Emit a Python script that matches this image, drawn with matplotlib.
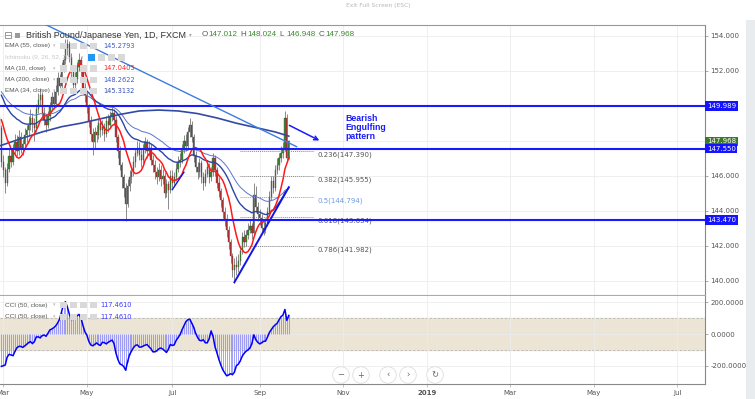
import matplotlib
matplotlib.use("Agg")
import matplotlib.pyplot as plt
import matplotlib.transforms as mtransforms
from matplotlib.patches import Rectangle, Circle
import numpy as np
import pandas as pd

# GBP/JPY daily bars, 15 Feb 2018 .. 24 Sep 2018 (first nine sit left of the view)
last_day = "2018-09-24"
first_open = 150.2
closes = [
    149.9, 149.6,
    150.0, 149.5, 149.8, 148.9, 149.4,
    149.3, 148.7, 146.8, 146.3, 145.6,
    146.4, 147.1, 146.8, 147.5, 147.9,
    147.4, 148.2, 147.6, 147.8, 148.3,
    148.6, 148.9, 149.3, 149.0, 148.7,
    149.8, 150.3, 150.6, 149.6, 149.2,
    148.9, 149.4, 149.9, 150.5, 150.1,
    150.8, 151.6, 151.1, 152.2, 152.6,
    153.3, 153.5, 152.8, 152.0, 151.2,
    151.5, 152.2, 152.6, 152.0, 151.0,
    150.6, 149.9, 149.1, 148.4, 147.9,
    148.5, 148.3, 149.0, 148.6, 148.8,
    148.4, 149.1, 148.9, 149.4, 149.6,
    149.2, 148.2, 147.4, 146.6, 145.9,
    145.3, 144.4, 145.4, 145.9, 146.2,
    146.8, 147.3, 147.6, 147.2, 146.9,
    147.5, 147.9, 147.4, 147.6, 146.9,
    146.6, 146.2, 145.9, 146.3, 145.8,
    146.0, 145.0, 145.5, 145.2, 146.0,
    145.6, 145.9, 146.4, 146.8, 146.9,
    147.5, 148.0, 147.7, 148.5, 148.9,
    148.2, 147.1, 146.5, 146.2, 146.7,
    145.9, 145.6, 146.1, 146.5, 145.9,
    146.2, 147.0, 146.3, 145.6, 145.1,
    144.6, 143.9, 143.5, 142.9, 142.2,
    141.4, 140.6, 140.9, 140.8, 141.1,
    141.7, 142.5, 142.2, 142.6, 142.9,
    143.1, 142.7, 144.9, 144.2, 143.8,
    143.6, 143.0, 142.9, 143.3, 143.9,
    144.8, 145.7, 145.3, 146.3, 146.6,
    147.0, 147.3, 147.6, 149.3, 147.012,
    147.968,
]
highs = [
    150.5, 150.2,
    150.4, 150.3, 150.1, 150.0, 149.7,
    149.9, 149.5, 148.9, 147.2, 146.5,
    146.7, 147.5, 147.6, 147.8, 148.4,
    148.3, 148.6, 148.5, 148.1, 148.7,
    148.9, 149.4, 149.8, 149.6, 149.3,
    150.1, 150.7, 151.0, 150.8, 149.9,
    149.5, 149.7, 150.2, 150.8, 150.9,
    151.2, 151.9, 151.8, 152.5, 152.9,
    153.8, 153.8, 153.7, 153.0, 152.3,
    151.9, 152.5, 153.0, 152.8, 152.2,
    151.3, 150.8, 150.1, 149.4, 148.7,
    148.8, 148.9, 149.3, 149.2, 149.2,
    149.0, 149.4, 149.5, 149.7, 150.0,
    149.8, 149.4, 148.4, 147.7, 146.8,
    146.1, 145.6, 145.8, 146.3, 146.5,
    147.1, 147.6, 148.0, 147.9, 147.5,
    147.8, 148.2, 148.1, 148.0, 147.8,
    147.2, 146.9, 146.5, 146.7, 146.6,
    146.4, 146.2, 145.8, 145.7, 146.3,
    146.3, 146.2, 146.7, 147.1, 147.3,
    147.8, 148.3, 148.4, 148.8, 149.3,
    149.1, 148.4, 147.4, 146.8, 147.0,
    146.9, 146.2, 146.4, 146.9, 146.7,
    146.5, 147.3, 147.2, 146.5, 145.9,
    145.3, 144.8, 144.2, 143.8, 143.1,
    142.4, 141.6, 141.3, 141.4, 141.5,
    142.0, 142.8, 142.9, 142.9, 143.3,
    143.5, 143.3, 145.6, 145.4, 144.5,
    144.1, 143.8, 143.4, 143.6, 144.2,
    145.1, 146.0, 146.0, 146.6, 147.0,
    147.3, 147.7, 147.9, 149.71, 149.5,
    148.024,
]
lows = [
    149.6, 149.3,
    149.4, 149.2, 149.2, 148.6, 148.7,
    149.0, 148.4, 146.5, 145.9, 145.0,
    145.4, 146.2, 146.5, 146.6, 147.2,
    147.1, 147.2, 147.3, 147.2, 147.6,
    147.9, 148.3, 148.6, 148.5, 148.0,
    148.5, 149.6, 150.0, 149.3, 148.9,
    148.5, 148.7, 149.1, 149.7, 149.8,
    149.9, 150.6, 150.7, 150.9, 151.9,
    152.4, 152.9, 152.5, 151.6, 150.9,
    150.8, 151.3, 152.0, 151.7, 150.7,
    150.2, 149.6, 148.8, 148.0, 147.2,
    147.6, 147.9, 148.1, 148.2, 148.3,
    148.0, 148.2, 148.5, 148.7, 149.1,
    148.9, 147.9, 147.0, 146.3, 145.3,
    144.8, 143.4, 144.2, 145.1, 145.6,
    146.0, 146.5, 147.1, 146.9, 146.5,
    146.7, 147.3, 147.0, 147.1, 146.6,
    146.2, 145.8, 145.5, 145.7, 145.4,
    145.5, 144.7, 144.8, 144.1, 145.0,
    145.3, 145.4, 145.7, 146.2, 146.5,
    146.7, 147.3, 147.4, 147.5, 148.2,
    147.9, 146.8, 146.2, 145.8, 145.9,
    145.6, 145.2, 145.4, 145.9, 145.6,
    145.7, 146.0, 146.0, 145.3, 144.8,
    144.2, 143.6, 143.1, 142.5, 141.8,
    141.0, 140.2, 139.88, 140.3, 140.5,
    140.9, 141.5, 141.9, 142.0, 142.4,
    142.7, 142.4, 142.6, 143.9, 143.4,
    143.2, 142.7, 142.6, 142.7, 143.1,
    143.7, 144.6, 145.0, 145.1, 146.1,
    146.3, 146.8, 147.0, 147.4, 146.8,
    146.948,
]

# CCI(50) from 28 Feb 2018 to 24 Sep 2018
cci = [
    -204, -200, -195,
    -145, -128, -132, -136, -110,
    -86, -78, -78, -84, -75,
    -65, -54, -48, -60, -48,
    -18, -18, -24, -10, -6,
    -14, 5, 26, 32, 40,
    52, 70, 95, 140, 188,
    204, 170, 125, 92, 93,
    100, 115, 124, 100, 55,
    15, -6, -45, -68, -74,
    -66, -56, -66, -72, -52,
    -54, -62, -52, -45, -38,
    -60, -120, -160, -188, -194,
    -205, -228, -175, -130, -108,
    -86, -72, -68, -82, -82,
    -76, -70, -66, -80, -92,
    -112, -112, -106, -94, -88,
    -94, -104, -116, -96, -66,
    -72, -68, -40, -22, -4,
    26, 52, 78, 90, 94,
    70, 44, 6, -20, -40,
    -42, -36, -55, -55, -30,
    20, -15, -80, -118, -160,
    -195, -225, -245, -263, -258,
    -250, -256, -240, -200, -190,
    -170, -140, -122, -108, -100,
    -88, -60, -5, -35, -52,
    -62, -55, -46, -45, -20,
    10, 28, 46, 58, 68,
    90, 110, 120, 155, 86,
    117.461,
]

# 200-day MA
ma200_dates = ["2018-02-27", "2018-03-15", "2018-03-29", "2018-04-12", "2018-04-26",
               "2018-05-10", "2018-05-24", "2018-06-07", "2018-06-21", "2018-07-05",
               "2018-07-19", "2018-08-02", "2018-08-16", "2018-08-30", "2018-09-13",
               "2018-09-24"]
ma200_values = [147.7, 148.15, 148.5, 148.8, 149.0, 149.25, 149.5, 149.7, 149.75,
                149.7, 149.55, 149.3, 149.0, 148.75, 148.5, 148.26]
ema_start_day = "2018-02-28"
ema34_start = 150.6
ema55_start = 150.8

levels = [149.989, 147.550, 143.470]
fib_high, fib_low = 149.711, 139.878
fib_ratios = [0.236, 0.382, 0.5, 0.618, 0.786]
fib_span = ["2018-08-20", "2018-10-11"]

trend_down = (["2018-03-15", "2018-09-28"], [155.27, 147.66])
trend_up = (["2018-08-15", "2018-09-24"], [139.91, 145.34])
trend_jul = (["2018-07-02", "2018-07-10"], [145.2, 146.2])
arrow_pts = (["2018-09-21", "2018-10-17"], [148.95, 147.94])
note_at = ("2018-11-02", 149.55)

price_ticks = [140, 142, 144, 146, 148, 150, 152, 154]
cci_ticks = [-200, 0, 200]
months = ["2018-03", "2018-05", "2018-07", "2018-09", "2018-11",
          "2019-01", "2019-03", "2019-05", "2019-07"]
month_labels = ["Mar", "May", "Jul", "Sep", "Nov", "2019", "Mar", "May", "Jul"]

legend_rows = [("EMA (55, close)", "145.2793", "#3f5cc4"),
               ("Ichimoku (9, 26, 52, 26)", "", ""),
               ("MA (10, close)", "147.0405", "#ff2020"),
               ("MA (200, close)", "148.2622", "#3f5cc4"),
               ("EMA (34, close)", "145.3132", "#3850b0")]


def ema(vals, span, start):
    a = 2.0 / (span + 1)
    out = [start]
    for v in vals[1:]:
        out.append(out[-1] + a * (v - out[-1]))
    return out


def main():
    W, H = 755, 399
    cal = pd.bdate_range("2018-02-01", "2019-08-30")

    def xp(d):
        return cal.get_loc(pd.Timestamp(d))

    dates = pd.bdate_range(end=last_day, periods=len(closes))
    xs = np.array([cal.get_loc(d) for d in dates])
    k0 = list(dates).index(pd.Timestamp(ema_start_day))
    x_mar = xp("2018-03-01")
    xlim = (x_mar - 1.7, x_mar + 361.3)
    month_x = [cal[cal.searchsorted(pd.Timestamp(m))] for m in months]
    month_x = [cal.get_loc(d) for d in month_x]

    fig = plt.figure(figsize=(W / 100, H / 100), dpi=100)

    def frac(l, t, r, b):
        return [l / W, 1 - b / H, (r - l) / W, (b - t) / H]

    ax = fig.add_axes(frac(0, 25, 705, 295))
    axc = fig.add_axes(frac(0, 296, 705, 384))

    # candles
    c = np.array(closes)
    o = np.array([first_open] + closes[:-1])
    up = c >= o
    ax.vlines(xs, lows, highs, color="#777777", lw=0.6, zorder=2)
    ax.bar(xs, np.maximum(np.abs(c - o), 0.04), bottom=np.minimum(o, c), width=0.65,
           color=np.where(up, "#3b8a2e", "#d42a2a"), edgecolor="#444444",
           linewidth=0.25, zorder=3)

    # indicators
    ma10 = pd.Series(closes).rolling(10).mean().values
    ax.plot(xs[k0:], ma10[k0:], color="#ff1a1a", lw=1.1, zorder=6)
    ax.plot(xs[k0:], ema(closes[k0:], 55, ema55_start), color="#5a73d1", lw=0.7, zorder=5)
    ax.plot(xs[k0:], ema(closes[k0:], 34, ema34_start), color="#2c45a8", lw=1.0, zorder=5)
    ax.plot([xp(d) for d in ma200_dates], ma200_values, color="#3349a6", lw=1.2, zorder=5)

    # drawings
    for lv in levels:
        ax.axhline(lv, color="#1a1aff", lw=1.5, zorder=7)
    ax.plot([xp(d) for d in trend_down[0]], trend_down[1], color="#3d7be0", lw=1.0, zorder=7)
    ax.plot([xp(d) for d in trend_up[0]], trend_up[1], color="#1414e6", lw=1.4, zorder=7)
    ax.plot([xp(d) for d in trend_jul[0]], trend_jul[1], color="#1414e6", lw=1.0, zorder=7)
    ax.annotate("", xy=(xp(arrow_pts[0][1]), arrow_pts[1][1]),
                xytext=(xp(arrow_pts[0][0]), arrow_pts[1][0]),
                arrowprops=dict(arrowstyle="->", color="#1a1aff", lw=1.1,
                                mutation_scale=7), zorder=8)
    ax.text(xp(note_at[0]), note_at[1], "Bearish\nEngulfing\npattern", color="#1a1aff",
            fontsize=6.3, fontweight="bold", family="Liberation Sans", va="top",
            ha="left", linespacing=1.05, zorder=8)

    fx0, fx1 = xp(fib_span[0]), xp(fib_span[1])
    for r in fib_ratios:
        lvl = fib_high - r * (fib_high - fib_low)
        col = "#7aa6e8" if r == 0.5 else "#8a8a8a"
        ax.plot([fx0, fx1], [lvl, lvl], ls=(0, (1, 1)), lw=0.7, color=col, zorder=4)
        ax.annotate(f"{r}({lvl:.3f})", xy=(fx1, lvl), xytext=(2.3, -2.7),
                    textcoords="offset points", fontsize=5,
                    color="#6f9ae0" if r == 0.5 else "#555555",
                    va="center", ha="left", zorder=4)

    # axis labels hidden under the price boxes, as on the chart
    boxed = levels + [closes[-1]]
    ax.set_xlim(*xlim)
    ax.set_ylim(139.183, 154.611)
    ax.set_xticks(month_x)
    ax.set_yticks(price_ticks)
    ax.set_yticklabels([f"{v:.3f}" if min(abs(v - b) for b in boxed) > 0.3 else ""
                        for v in price_ticks])
    ax.yaxis.tick_right()
    ax.tick_params(axis="x", length=0, labelbottom=False)
    ax.tick_params(axis="y", length=2.5, width=0.5, color="#888888", labelsize=5,
                   labelcolor="#555555", pad=1.5)
    ax.grid(color="#ececec", lw=0.6, zorder=0)
    ax.spines["left"].set_visible(False)
    ax.spines["top"].set_color("#999999")
    ax.spines["right"].set_color("#888888")
    ax.spines["bottom"].set_color("#aaaaaa")
    for s in ax.spines.values():
        s.set_linewidth(0.8)

    # price boxes on the axis
    tr = mtransforms.blended_transform_factory(ax.transAxes, ax.transData)
    ax.text(1.0026, closes[-1], f"{closes[-1]:.3f}", transform=tr, fontsize=5,
            color="white", va="center", ha="left", clip_on=False, zorder=10,
            bbox=dict(boxstyle="square,pad=0.25", fc="#3c7a26", ec="none"))
    for lv in levels:
        ax.text(1.0026, lv, f"{lv:.3f}", transform=tr, fontsize=5, color="white",
                va="center", ha="left", clip_on=False, zorder=10,
                bbox=dict(boxstyle="square,pad=0.25", fc="#1414ff", ec="none"))

    # CCI panel
    xc = xs[k0:]
    axc.axhspan(-100, 100, color="#ece4d4", zorder=0)
    for v in (-100, 100):
        axc.axhline(v, color="#b8b8b8", lw=0.6, ls=(0, (3, 2)), zorder=1)
    axc.vlines(xc, 0, cci, color="#7d7dff", lw=0.5, zorder=2)
    axc.plot(xc, cci, color="#0000ff", lw=1.1, zorder=3)
    axc.set_xlim(*xlim)
    axc.set_ylim(-315, 240)
    axc.set_yticks(cci_ticks)
    axc.set_yticklabels([f"{v:.4f}" for v in cci_ticks])
    axc.yaxis.tick_right()
    axc.set_xticks(month_x)
    axc.set_xticklabels(month_labels)
    for t in axc.get_xticklabels():
        if t.get_text() == "2019":
            t.set_fontweight("bold")
    axc.tick_params(axis="x", length=2, width=0.5, color="#aaaaaa", labelsize=5,
                    labelcolor="#555555", pad=2.5)
    axc.tick_params(axis="y", length=2.5, width=0.5, color="#888888", labelsize=5,
                    labelcolor="#555555", pad=1.5)
    axc.grid(color="#ececec", lw=0.6, zorder=0)
    axc.spines["left"].set_visible(False)
    axc.spines["top"].set_visible(False)
    axc.spines["right"].set_color("#888888")
    axc.spines["bottom"].set_color("#888888")
    for s in axc.spines.values():
        s.set_linewidth(0.8)

    # chart chrome, in pixel coordinates
    axu = fig.add_axes([0, 0, 1, 1])
    axu.set_xlim(0, W)
    axu.set_ylim(H, 0)
    axu.axis("off")
    axu.patch.set_alpha(0)
    axu.add_patch(Rectangle((746, 20), 9, 379, fc="#e9ecef", ec="none"))
    axu.text(378, 5.5, "Exit Full Screen (ESC)", fontsize=4.3, color="#b8b8b8",
             ha="center", va="center")

    axu.add_patch(Rectangle((4.5, 32), 6, 6, fc="white", ec="#888888", lw=0.6))
    axu.plot([6, 9.5], [35, 35], color="#888888", lw=0.6)
    axu.add_patch(Rectangle((15, 32.5), 5, 5, fc="#9a9a9a", ec="none"))
    axu.text(26, 35, "British Pound/Japanese Yen, 1D, FXCM", fontsize=6.5,
             family="Liberation Sans", color="#333333", va="center")
    axu.text(189, 35, "▾", fontsize=4, color="#aaaaaa", va="center")
    ohlc = [("O", o[-1]), ("H", highs[-1]), ("L", lows[-1]), ("C", closes[-1])]
    for k, (letter, val) in enumerate(ohlc):
        x0 = 201.7 + k * 39
        axu.text(x0, 35, letter, fontsize=5.8, family="Liberation Sans",
                 color="#555555", va="center")
        axu.text(x0 + 6.6, 35, f"{val:.3f}", fontsize=5.8, family="Liberation Sans",
                 color="#3b8a2e", va="center")

    def icons(x0, y, blue_first=False):
        for k in range(4):
            fc = "#2196f3" if (blue_first and k == 0) else "#d9d9d9"
            axu.add_patch(Rectangle((x0 + k * 10, y - 3.2), 6.5, 6.5, fc=fc, ec="none"))

    for k, (name, val, col) in enumerate(legend_rows):
        y = [46, 57.3, 68.3, 80, 90.7][k]
        ichi = val == ""
        axu.text(5, y, name, fontsize=4.6, family="Liberation Sans",
                 color="#c8c8c8" if ichi else "#555555", va="center")
        axu.text(81 if ichi else 53, y, "▾", fontsize=3.5, color="#bbbbbb", va="center")
        icons(88 if ichi else 60, y, blue_first=ichi)
        if val:
            axu.text(103, y, val, fontsize=4.8, color=col, va="center")

    for y in (305, 316.7):
        axu.text(5, y, "CCI (50, close)", fontsize=4.6, family="Liberation Sans",
                 color="#555555", va="center")
        axu.text(53, y, "▾", fontsize=3.5, color="#bbbbbb", va="center")
        icons(60, y)
        axu.text(100, y, f"{cci[-1]:.4f}", fontsize=4.8, color="#3a3aff", va="center")

    for bx, sym in zip([341, 361, 388, 408, 435], ["−", "+", "‹", "›", "↻"]):
        axu.add_patch(Circle((bx, 375), 8.3, fc="white", ec="#dddddd", lw=0.6))
        axu.text(bx, 375, sym, fontsize=6, color="#666666", ha="center", va="center")

    fig.savefig("out.png", dpi=100)


if __name__ == "__main__":
    main()
